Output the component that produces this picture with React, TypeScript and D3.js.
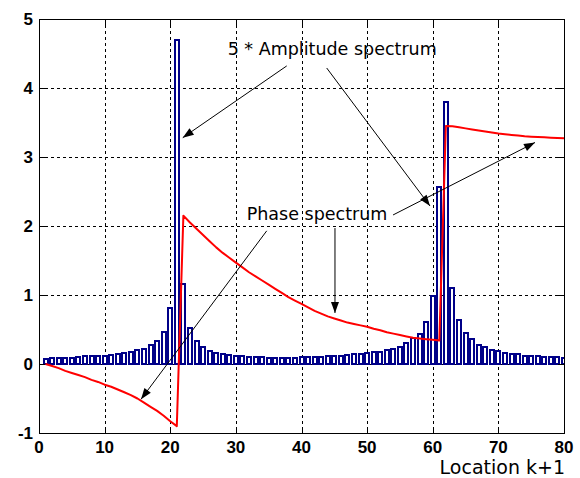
import React from "react";
import * as d3 from "d3";

const locations = d3.range(1, 81);
const amplitude = [
  0.07, 0.09, 0.09, 0.09, 0.09, 0.10, 0.11, 0.11, 0.11, 0.12,
  0.13, 0.14, 0.16, 0.18, 0.20, 0.22, 0.28, 0.34, 0.46, 0.81,
  4.70, 1.16, 0.52, 0.34, 0.25, 0.19, 0.16, 0.14, 0.13, 0.12,
  0.11, 0.10, 0.10, 0.10, 0.09, 0.09, 0.09, 0.09, 0.09, 0.10,
  0.10, 0.10, 0.10, 0.11, 0.11, 0.12, 0.13, 0.14, 0.15, 0.16,
  0.17, 0.18, 0.20, 0.22, 0.25, 0.31, 0.38, 0.44, 0.61, 0.98,
  2.56, 3.79, 1.10, 0.64, 0.45, 0.36, 0.28, 0.24, 0.21, 0.19,
  0.16, 0.15, 0.14, 0.12, 0.12, 0.11, 0.10, 0.10, 0.10, 0.09,
];
const phase = [
  0, -0.03, -0.06, -0.10, -0.13, -0.16, -0.19, -0.23, -0.26, -0.30,
  -0.33, -0.37, -0.41, -0.45, -0.50, -0.56, -0.62, -0.68, -0.75, -0.83,
  -0.90, 2.15, 2.05, 1.96, 1.87, 1.78, 1.69, 1.61, 1.54, 1.47,
  1.40, 1.33, 1.27, 1.21, 1.15, 1.09, 1.03, 0.97, 0.92, 0.87,
  0.82, 0.77, 0.73, 0.69, 0.66, 0.63, 0.60, 0.58, 0.56, 0.54,
  0.51, 0.49, 0.46, 0.44, 0.42, 0.40, 0.38, 0.37, 0.36, 0.35,
  0.34, 3.45, 3.445, 3.43, 3.415, 3.40, 3.385, 3.37, 3.355, 3.34,
  3.33, 3.32, 3.31, 3.30, 3.295, 3.29, 3.285, 3.28, 3.275, 3.27,
];
const xTicks = [0, 10, 20, 30, 40, 50, 60, 70, 80];
const yTicks = [-1, 0, 1, 2, 3, 4, 5];

// annotation arrows in data units: [x1, y1, x2, y2]
const arrows = [
  [37.75, 4.32, 21.9, 3.28],
  [43.84, 4.29, 59.58, 2.29],
  [34.7, 1.93, 15.55, -0.51],
  [45.1, 1.97, 45.1, 0.74],
  [53.95, 2.16, 75.58, 3.21],
];
const labels = [
  { text: "5 * Amplitude spectrum", x: 28.75, y: 4.48 },
  { text: "Phase spectrum", x: 31.65, y: 2.09 },
];

const W = 580, H = 478;
const L = 39, R = 564, T = 19, B = 433;

export default function App() {
  const x = d3.scaleLinear().domain([0, 80]).range([L, R]);
  const y = d3.scaleLinear().domain([-1, 5]).range([B, T]);
  const barW = 0.6;
  const line = d3
    .line<number>()
    .x((_, i) => x(locations[i]))
    .y((d) => y(d));
  const navy = "#000088";
  const tickFont = "'Liberation Sans', Arial, sans-serif";
  const textFont = "'DejaVu Sans', Verdana, sans-serif";
  const wPx = Math.round(x(barW) - x(0));

  const arrowHead = (a: number[]) => {
    const x1 = x(a[0]), y1 = y(a[1]), x2 = x(a[2]), y2 = y(a[3]);
    const ang = Math.atan2(y2 - y1, x2 - x1);
    const len = 11, hw = 4;
    const bx = x2 - len * Math.cos(ang), by = y2 - len * Math.sin(ang);
    const px = -Math.sin(ang) * hw, py = Math.cos(ang) * hw;
    return `M${x2},${y2}L${bx + px},${by + py}L${bx - px},${by - py}Z`;
  };

  return (
    <svg
      width={W}
      height={H}
      style={{ position: "absolute", left: 0, top: 0, background: "#fff" }}
    >
      <defs>
        <clipPath id="plotclip">
          <rect x={L} y={T} width={R - L + 1} height={B - T} />
        </clipPath>
      </defs>
      <rect x={0} y={0} width={W} height={H} fill="#fff" />
      {/* grid */}
      <g stroke="#000" strokeWidth={1} strokeDasharray="3,3" shapeRendering="crispEdges">
        {xTicks.slice(1, -1).map((t) => (
          <line key={"gx" + t} x1={x(t) + 0.5} x2={x(t) + 0.5} y1={T} y2={B} />
        ))}
        {yTicks.slice(1, -1).map((t) => (
          <line key={"gy" + t} x1={L} x2={R} y1={y(t) + 0.5} y2={y(t) + 0.5} />
        ))}
      </g>
      {/* bars */}
      <g clipPath="url(#plotclip)">
        {amplitude.map((v, i) => {
          const k = locations[i];
          const x0 = Math.round(x(k) - wPx / 2);
          const yTop = Math.round(y(v));
          const yBase = Math.round(y(0));
          return (
            <rect
              key={"b" + k}
              x={x0}
              y={yTop}
              width={wPx}
              height={yBase - yTop}
              fill="#fff"
              stroke={navy}
              strokeWidth={2}
            />
          );
        })}
        <path
          d={line(phase) || ""}
          fill="none"
          stroke="#ff0000"
          strokeWidth={2}
          strokeLinejoin="round"
        />
      </g>
      {/* axes box */}
      <rect x={L + 0.5} y={T + 0.5} width={R - L} height={B - T} fill="none" stroke="#000" strokeWidth={1} shapeRendering="crispEdges" />
      <g stroke="#000" strokeWidth={1} shapeRendering="crispEdges">
        {xTicks.map((t) => (
          <g key={"tx" + t}>
            <line x1={x(t) + 0.5} x2={x(t) + 0.5} y1={B} y2={B - 6} />
            <line x1={x(t) + 0.5} x2={x(t) + 0.5} y1={T} y2={T + 6} />
          </g>
        ))}
        {yTicks.map((t) => (
          <g key={"ty" + t}>
            <line x1={L} x2={L + 6} y1={y(t) + 0.5} y2={y(t) + 0.5} />
            <line x1={R} x2={R - 6} y1={y(t) + 0.5} y2={y(t) + 0.5} />
          </g>
        ))}
      </g>
      {/* tick labels */}
      <g fontFamily={tickFont} fontWeight="bold" fontSize={17} fill="#000">
        {xTicks.map((t) => (
          <text key={"lx" + t} x={x(t)} y={453} textAnchor="middle">
            {t}
          </text>
        ))}
        {yTicks.map((t) => (
          <text key={"ly" + t} x={33} y={y(t) + 6} textAnchor="end">
            {t}
          </text>
        ))}
      </g>
      <text x={R + 1} y={474} textAnchor="end" fontFamily={textFont} fontSize={19} fill="#000">
        Location k+1
      </text>
      {/* annotations */}
      <g>
        {arrows.map((a, i) => (
          <g key={"a" + i}>
            <line
              x1={x(a[0])}
              y1={y(a[1])}
              x2={x(a[2])}
              y2={y(a[3])}
              stroke="#000"
              strokeWidth={1}
            />
            <path d={arrowHead(a)} fill="#000" />
          </g>
        ))}
        {labels.map((l) => (
          <text key={l.text} x={x(l.x)} y={y(l.y)} fontFamily={textFont} fontSize={17.5} fill="#000">
            {l.text}
          </text>
        ))}
      </g>
    </svg>
  );
}
